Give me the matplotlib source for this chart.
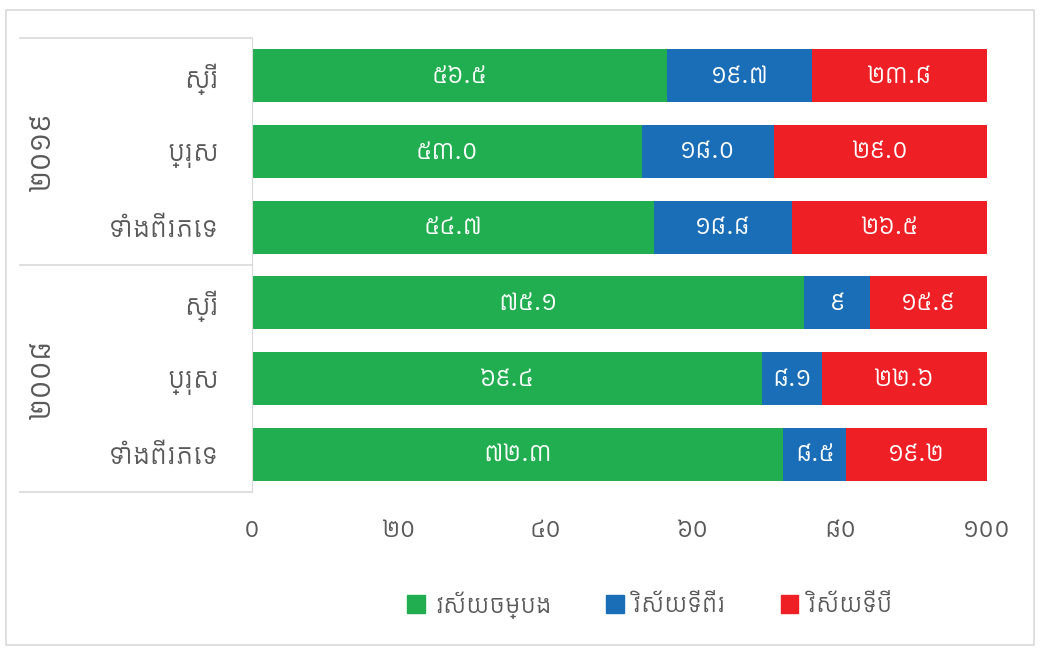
import matplotlib
matplotlib.use("Agg")
import matplotlib.pyplot as plt
from matplotlib import font_manager
from matplotlib.patches import Patch
from matplotlib.lines import Line2D

installed = {f.name for f in font_manager.fontManager.ttflist}
khmer_font = next((n for n in ["Kantumruy Pro", "Battambang", "Hanuman"]
                   if n in installed), None)
families = [khmer_font, "DejaVu Sans"] if khmer_font else ["DejaVu Sans"]
plt.rcParams["font.family"] = families

years = ["២០១៩", "២០០៨"]
genders = ["ស្រី", "ប្រុស", "ទាំងពីរភេទ"]
sectors = ["វស័យចម្បង", "វិស័យទីពីរ", "វិស័យទីបី"]
colors = ["#21AE50", "#1A6EB7", "#EE1F25"]

# rows top to bottom: 2019 (f, m, both), 2008 (f, m, both)
primary = [56.5, 53.0, 54.7, 75.1, 69.4, 72.3]
secondary = [19.7, 18.0, 18.8, 9.0, 8.1, 8.5]
tertiary = [23.8, 29.0, 26.5, 15.9, 22.6, 19.2]
primary_lbl = ["៥៦.៥", "៥៣.០", "៥៤.៧", "៧៥.១", "៦៩.៤", "៧២.៣"]
secondary_lbl = ["១៩.៧", "១៨.០", "១៨.៨", "៩", "៨.១", "៨.៥"]
tertiary_lbl = ["២៣.៨", "២៩.០", "២៦.៥", "១៥.៩", "២២.៦", "១៩.២"]
xticks = [0, 20, 40, 60, 80, 100]
xtick_lbl = ["០", "២០", "៤០", "៦០", "៨០", "១០០"]

grey = "#595959"
line_c = "#D9D9D9"

fig = plt.figure(figsize=(10.4, 6.52), dpi=100)
ax = fig.add_axes([252 / 1040, 1 - 492 / 652, 735 / 1040, 454 / 652])

y = list(range(len(primary)))
left = [0] * len(primary)
for vals, lbls, col in zip([primary, secondary, tertiary],
                           [primary_lbl, secondary_lbl, tertiary_lbl], colors):
    bars = ax.barh(y, vals, left=left, height=0.7, color=col)
    ax.bar_label(bars, labels=lbls, label_type="center", color="white",
                 fontsize=19)
    left = [a + b for a, b in zip(left, vals)]

ax.set_ylim(len(primary) - 0.5, -0.5)
ax.set_xlim(0, 100)
ax.set_xticks(xticks)
ax.set_xticklabels(xtick_lbl, fontsize=19, color=grey)
ax.tick_params(axis="x", length=0, pad=18)
ax.set_yticks(y)
ax.set_yticklabels(genders * 2, fontsize=20, color=grey)
ax.tick_params(axis="y", length=0, pad=24)
for s in ["top", "right", "bottom"]:
    ax.spines[s].set_visible(False)
ax.spines["left"].set_color(line_c)

# multi-level category axis: year group labels and separators
for yy in [-0.5, 2.5, 5.5]:
    ax.add_line(Line2D([-232 / 735 * 100, 0], [yy, yy], color=line_c, lw=1.2,
                       transform=ax.transData, clip_on=False))
for i, yr in enumerate(years):
    ax.text(-210 / 735 * 100, 3 * i + 1, yr, rotation=90, ha="center",
            va="center", fontsize=23, color=grey)

# outer frame
fig.add_artist(plt.Rectangle((6 / 1040, 1 - 645 / 652), 1028 / 1040,
                             635 / 652, fill=False, ec=line_c, lw=1.2,
                             transform=fig.transFigure))

handles = [Patch(color=c) for c in colors]
fig.legend(handles, sectors, loc="center", bbox_to_anchor=(650 / 1040, 1 - 605 / 652),
           ncol=3, frameon=False, fontsize=18, labelcolor=grey,
           handlelength=0.7, handleheight=0.7, columnspacing=2.2,
           handletextpad=0.4)

fig.savefig("out.png", dpi=100)
